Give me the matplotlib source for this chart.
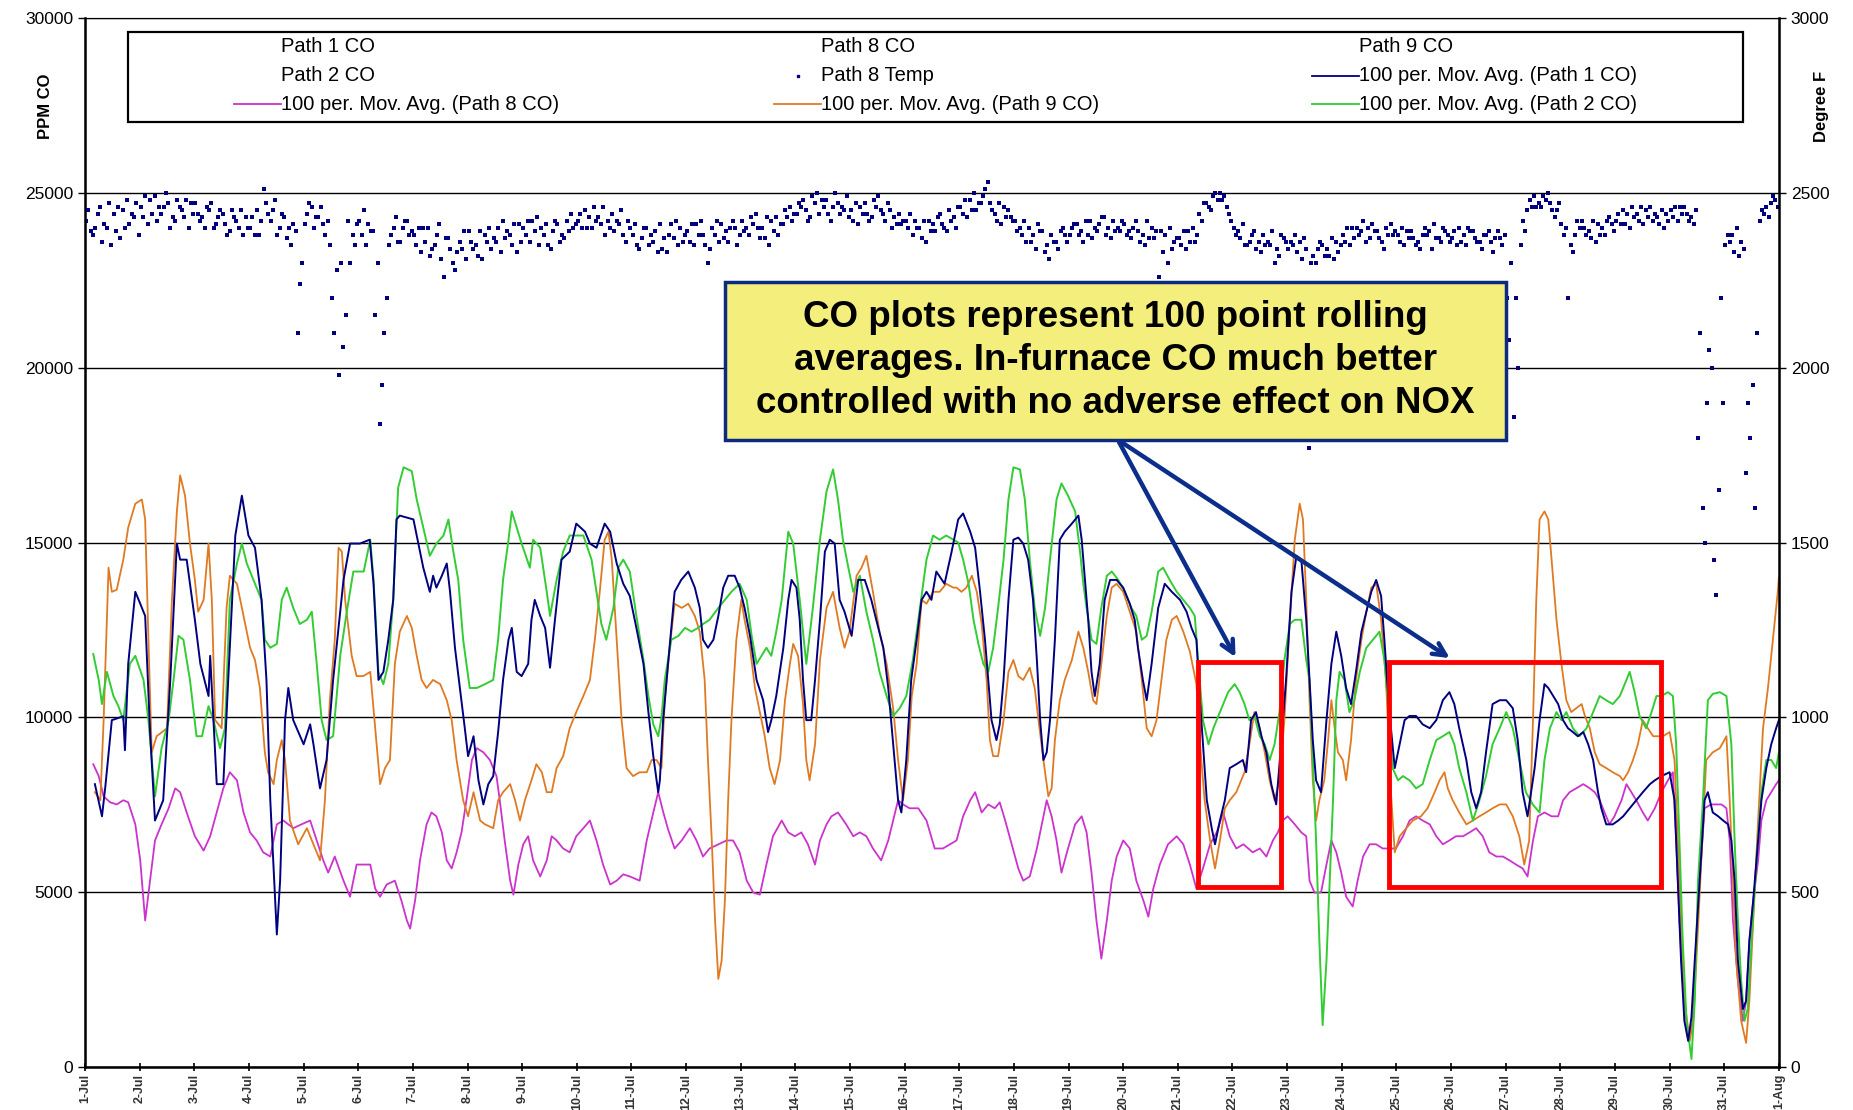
import numpy as np
import matplotlib
matplotlib.use("Agg")
import matplotlib.pyplot as plt
from matplotlib.patches import Rectangle
from matplotlib.lines import Line2D

plt.rcParams["font.family"] = ["Liberation Sans", "DejaVu Sans"]

# ---- data (x = days since 1-Jul 00:00) ----
P1_DAY = [0.18, 0.31, 0.37, 0.49, 0.70, 0.73, 0.79, 0.92, 1.01, 1.10, 1.19, 1.28, 1.43, 1.56, 1.68, 1.74, 1.86,
          2.01, 2.11, 2.26, 2.29, 2.35, 2.41, 2.53, 2.62, 2.75, 2.87, 2.99, 3.11, 3.23, 3.32, 3.39, 3.51, 3.57,
          3.66, 3.72, 3.81, 4.00, 4.12, 4.18, 4.30, 4.42, 4.54, 4.73, 4.85, 5.03,
          5.21, 5.28, 5.37, 5.46, 5.55, 5.64, 5.70, 5.76, 6.01, 6.10, 6.19, 6.31, 6.37, 6.43, 6.53, 6.62, 6.68,
          6.77, 6.86, 6.95, 7.01, 7.11, 7.20, 7.29, 7.38, 7.47, 7.56, 7.65, 7.75, 7.81, 7.90, 7.99, 8.11, 8.17,
          8.23, 8.33, 8.42, 8.51, 8.60, 8.72, 8.87, 8.99, 9.15, 9.24, 9.36, 9.51, 9.61, 9.73, 9.85, 9.97, 10.09,
          10.22, 10.31, 10.40, 10.49,
          10.52, 10.58, 10.67, 10.79, 10.91, 11.04, 11.16, 11.25, 11.31, 11.40, 11.50, 11.59, 11.68, 11.77,
          11.89, 11.98, 12.07, 12.17, 12.29, 12.41, 12.50, 12.56, 12.65, 12.78, 12.87, 12.93, 13.02, 13.08,
          13.14, 13.20, 13.29, 13.36, 13.45, 13.54, 13.63, 13.72, 13.81, 13.90, 14.03, 14.15, 14.27, 14.39,
          14.48, 14.61, 14.70, 14.79, 14.88, 14.94, 15.03, 15.12, 15.22, 15.31, 15.40, 15.49, 15.58, 15.73,
          15.86, 15.98, 16.07, 16.20, 16.29, 16.38, 16.47, 16.53, 16.59, 16.68, 16.74, 16.81, 16.90, 16.99,
          17.08, 17.17, 17.26, 17.35, 17.42, 17.48, 17.54, 17.60, 17.66, 17.75, 17.84, 17.93, 18.06, 18.18,
          18.24, 18.30, 18.36, 18.42, 18.48, 18.57, 18.66, 18.76, 18.88, 19.00, 19.12, 19.21, 19.27, 19.36,
          19.43, 19.52, 19.64, 19.76, 19.89, 20.04, 20.16, 20.25, 20.34, 20.40, 20.46, 20.53, 20.62, 20.68,
          20.77, 20.86, 20.95, 21.07,
          21.19, 21.25, 21.34, 21.43, 21.53, 21.62, 21.71, 21.80, 21.89, 21.98, 22.08, 22.17, 22.26, 22.35,
          22.41, 22.47, 22.53, 22.62, 22.72, 22.81, 22.90, 22.99, 23.08, 23.17, 23.26, 23.36, 23.45, 23.54,
          23.63, 23.72, 23.78, 23.84, 23.90, 23.97, 24.06, 24.15, 24.24, 24.36, 24.48, 24.61, 24.73, 24.85,
          24.97, 25.06, 25.15, 25.28, 25.37, 25.46, 25.55, 25.64, 25.76, 25.89, 26.01, 26.13, 26.22, 26.31,
          26.40, 26.53, 26.62, 26.71, 26.78, 26.87, 26.96, 27.05, 27.14, 27.23, 27.32, 27.42, 27.51, 27.60,
          27.69, 27.75, 27.84, 27.96, 28.06, 28.15, 28.27, 28.39, 28.51, 28.64, 28.73, 28.85, 29.00, 29.09,
          29.15, 29.21, 29.27, 29.34, 29.40, 29.46, 29.55, 29.64, 29.70, 29.79, 29.89, 29.98, 30.07, 30.13,
          30.19, 30.25, 30.34, 30.40, 30.46, 30.53, 30.59, 30.68, 30.77, 30.86, 30.95, 31.00]
P1_PPM = [8090, 7170, 8000, 9920, 10030, 9060, 11530, 13590, 13250, 12900, 9580, 7050, 7630, 11070, 14970, 14510, 14510,
          12790, 11530, 10610, 11760, 9920, 8090, 8090, 11070, 15200, 16340, 15200, 14850, 13360, 11070, 7630, 3790, 5330,
          9920, 10840, 9920, 9230, 9800, 9230, 7970, 8780, 11070, 13930, 14970, 14970,
          15080, 13820, 11070, 11300, 12220, 13360, 15660, 15770, 15660, 14970, 14280, 13590, 14050, 13710, 14050, 14400, 13590,
          11990, 10840, 9690, 8890, 9460, 8200, 7510, 8090, 8320, 9580, 11070, 12220, 12560, 11300, 11180, 11530, 12790,
          13360, 12900, 12560, 11420, 12790, 14510, 14740, 15540, 15310, 14970, 14850, 15540, 15310, 14400, 13820, 13470, 12560,
          11530, 10150, 8890, 7860,
          8200, 9920, 11530, 13590, 13930, 14170, 13710, 13130, 12220, 11990, 12220, 12900, 13710, 14050,
          14050, 13710, 13130, 12330, 11070, 10490, 9580, 9920, 10610, 11990, 13360, 13930, 13710, 12790,
          11070, 9920, 9920, 11070, 12790, 14740, 15080, 14970, 13360, 13020, 12330, 13930, 13930, 13360,
          12790, 11990, 10840, 9230, 7630, 7280, 8780, 11070, 12220, 13360, 13590, 13360, 14170, 13820,
          14740, 15660, 15830, 15310, 14850, 13590, 12220, 11070, 9920, 9350, 9800, 11070, 13360, 15080,
          15140, 14970, 14510, 13360, 11640, 9920, 8780, 9000, 9920, 12220, 15080, 15310, 15540, 15770,
          15080, 13930, 12790, 11300, 10610, 11530, 13360, 13930, 13930, 13710, 13250, 12790, 11990, 11070,
          10490, 11530, 13130, 13820, 13590, 13360, 13020, 12560, 12220, 10610, 9230, 7630, 6830, 6370,
          7050, 7630, 8550, 8660,
          8780, 8430, 9920, 10150, 9460, 9000, 8090, 7510, 9230, 11070, 13590, 14620, 14510, 12790,
          11070, 9350, 8200, 7860, 9920, 11530, 12450, 11760, 10840, 10380, 11300, 12450, 13020, 13590,
          13930, 13470, 12220, 10840, 9690, 8550, 9230, 9920, 10040, 10040, 9800, 9690, 9920, 10490,
          10720, 10380, 9690, 8780, 7860, 7400, 7860, 9000, 10380, 10490, 10490, 10260, 9350, 7860,
          7170, 8550, 9920, 10950, 10840, 10610, 10380, 9920, 9690, 9580, 9460, 9580, 9230, 8780,
          7860, 7400, 6940, 6940, 7050, 7170, 7400, 7630, 7860, 8090, 8200, 8320, 8430, 7630,
          5330, 3040, 1320, 750, 1430, 3040, 5330, 7630, 7860, 7280, 7170, 7050, 6940, 6480,
          5330, 3040, 1660, 1890, 3610, 4760, 5910, 7630, 8550, 9230, 9690, 9920]

P2_DAY = [0.15, 0.25, 0.31, 0.40, 0.52, 0.61, 0.70, 0.82, 0.92, 1.07, 1.16, 1.28, 1.40, 1.53, 1.62, 1.71, 1.80, 1.92,
          2.04, 2.14, 2.26, 2.35, 2.47, 2.56, 2.65, 2.78, 2.87, 2.96, 3.08, 3.23, 3.29, 3.39, 3.51, 3.60, 3.69, 3.81,
          3.93, 4.06, 4.15, 4.24, 4.33, 4.42, 4.54, 4.67, 4.79, 4.91, 5.10,
          5.22, 5.28, 5.37, 5.46, 5.55, 5.64, 5.73, 5.83, 5.98, 6.07, 6.19, 6.31, 6.43, 6.56, 6.65, 6.74, 6.83,
          6.92, 7.04, 7.17, 7.32, 7.47, 7.56, 7.65, 7.75, 7.81, 7.90, 7.99, 8.14, 8.20, 8.33, 8.45, 8.51, 8.63,
          8.75, 8.87, 9.12, 9.27, 9.36, 9.45, 9.54, 9.67, 9.76, 9.85, 9.97, 10.09, 10.22, 10.31, 10.40, 10.49,
          10.55, 10.61, 10.73, 10.86, 10.98, 11.10, 11.22, 11.31, 11.43, 11.59, 11.71, 11.83, 11.98, 12.11,
          12.20, 12.29, 12.38, 12.47, 12.56, 12.65, 12.75, 12.87, 12.96, 13.08, 13.20, 13.32, 13.45, 13.57,
          13.69, 13.78, 13.87, 13.97, 14.06, 14.18, 14.30, 14.42, 14.54, 14.67, 14.79, 14.91, 15.03, 15.15,
          15.28, 15.40, 15.52, 15.64, 15.76, 15.89, 15.98, 16.07, 16.17, 16.26, 16.35, 16.44, 16.53, 16.62,
          16.71, 16.81, 16.90, 16.99, 17.11, 17.20, 17.29, 17.38, 17.48, 17.57, 17.66, 17.78, 17.87, 17.99,
          18.12, 18.21, 18.27, 18.33, 18.42, 18.51, 18.60, 18.70, 18.79, 18.91, 19.03, 19.15, 19.24, 19.34,
          19.43, 19.52, 19.64, 19.73, 19.85, 19.98, 20.10, 20.22, 20.31, 20.37, 20.46, 20.56, 20.65, 20.77,
          20.92, 21.04, 21.13, 21.22, 21.31, 21.40, 21.50, 21.59, 21.68, 21.77, 21.86, 21.95, 22.05, 22.14,
          22.26, 22.35, 22.41, 22.47, 22.53, 22.59, 22.65, 22.72, 22.78, 22.84, 22.90, 22.96, 23.05, 23.14,
          23.23, 23.33, 23.45, 23.57, 23.69, 23.78, 23.84, 23.93, 24.03, 24.12, 24.24, 24.36, 24.48, 24.61,
          24.73, 24.85, 24.97, 25.06, 25.15, 25.28, 25.40, 25.52, 25.64, 25.76, 25.89, 26.01, 26.13, 26.25,
          26.37, 26.50, 26.62, 26.71, 26.81, 26.93, 27.02, 27.11, 27.23, 27.35, 27.48, 27.60, 27.72, 27.84,
          27.96, 28.09, 28.21, 28.27, 28.36, 28.45, 28.57, 28.67, 28.76, 28.85, 28.97, 29.06, 29.12, 29.18,
          29.24, 29.31, 29.40, 29.46, 29.52, 29.61, 29.70, 29.79, 29.92, 30.04, 30.13, 30.19, 30.25, 30.31,
          30.37, 30.43, 30.50, 30.59, 30.68, 30.77, 30.86, 30.95, 31.00]
P2_PPM = [11810, 11070, 10380, 11300, 10610, 10320, 9920, 11530, 11760, 11070, 9920, 7740, 9120, 9920, 11070, 12330, 12220, 11070,
          9460, 9460, 10320, 9920, 9120, 9690, 13360, 14400, 14970, 14400, 13940, 13360, 12220, 11990, 12100, 13360, 13710, 13130,
          12670, 12790, 13020, 11530, 9920, 9350, 9460, 11760, 13020, 14170, 14170,
          15080, 13930, 11300, 10950, 11530, 13360, 16570, 17150, 17040, 16230, 15430, 14620, 14970, 15200, 15660, 14740, 13930,
          12220, 10840, 10840, 10950, 11070, 12220, 13930, 15080, 15890, 15430, 14970, 14280, 15080, 14850, 13590, 12900, 13930,
          14740, 15200, 15200, 14510, 13590, 12670, 12220, 13130, 14280, 14510, 14170, 12900, 11640, 10610, 9800, 9460,
          10000, 11070, 12220, 12330, 12560, 12450, 12560, 12670, 12790, 13130, 13360, 13590, 13820, 13360,
          12330, 11530, 11760, 11990, 11760, 12450, 13360, 15310, 14970, 13360, 11530, 13130, 15080, 16460,
          17090, 16230, 15080, 14280, 13590, 14050, 13020, 12220, 11300, 10610, 10040, 10260, 10610, 11640,
          13130, 14510, 15200, 15080, 15200, 15080, 15000, 14510, 13820, 12790, 12100, 11530, 11300, 11990,
          13130, 14510, 16230, 17150, 17090, 16230, 14510, 13130, 12330, 13130, 14510, 16230, 16690, 16340,
          15890, 14740, 13820, 13130, 12220, 12100, 13130, 14050, 14170, 13930, 13590, 13130, 12900, 12220,
          12330, 13020, 14170, 14280, 13930, 13590, 13360, 13130, 12900, 11640, 9920, 9230, 9690, 10150,
          10720, 10950, 10720, 10380, 9920, 10040, 9460, 9230, 8780, 9230, 10150, 11640, 12670, 12790,
          12790, 11640, 11070, 8780, 6480, 3610, 1200, 3040, 5330, 7630, 10490, 11300, 11070, 10150,
          10490, 11300, 11990, 12220, 12450, 11640, 10490, 8550, 8200, 8320, 8200, 7970, 8090, 8780,
          9350, 9460, 9580, 9230, 8550, 7860, 7050, 7630, 8320, 9230, 9690, 10150, 9690, 8780,
          7860, 7500, 7280, 8780, 9690, 10150, 9920, 10150, 9690, 9460, 9690, 10150, 10610, 10490,
          10380, 10610, 11070, 11300, 10720, 10040, 9690, 10150, 10610, 10610, 10720, 10610, 9230, 6480,
          3610, 1320, 230, 1890, 5330, 7630, 10490, 10670, 10720, 10610, 9230, 6480, 4190, 2470,
          1320, 1660, 3610, 5910, 7860, 8780, 8780, 8550, 9000]

P8_DAY = [0.15, 0.25, 0.34, 0.46, 0.58, 0.70, 0.79, 0.92, 1.01, 1.10, 1.19, 1.28, 1.40, 1.53, 1.65, 1.74, 1.86, 2.01,
          2.17, 2.29, 2.41, 2.53, 2.65, 2.78, 2.90, 3.02, 3.14, 3.26, 3.39, 3.51, 3.63, 3.81, 3.96, 4.12, 4.24, 4.36,
          4.45, 4.57, 4.73, 4.85, 4.97, 5.12,
          5.22, 5.31, 5.40, 5.52, 5.67, 5.79, 5.89, 5.95, 6.04, 6.13, 6.25, 6.34, 6.43, 6.53, 6.62, 6.71, 6.80,
          6.89, 6.98, 7.08, 7.17, 7.29, 7.41, 7.53, 7.59, 7.68, 7.78, 7.84, 7.93, 8.02, 8.11, 8.20, 8.33, 8.45,
          8.54, 8.63, 8.75, 8.87, 8.99, 9.12, 9.24, 9.36, 9.48, 9.61, 9.73, 9.85, 9.97, 10.15, 10.28, 10.40, 10.49,
          10.58, 10.67, 10.79, 10.92, 11.07, 11.19, 11.31, 11.43, 11.59, 11.74, 11.86, 11.98, 12.11, 12.23,
          12.35, 12.47, 12.59, 12.75, 12.87, 12.99, 13.11, 13.23, 13.36, 13.45, 13.57, 13.66, 13.78, 13.93,
          14.06, 14.18, 14.30, 14.42, 14.57, 14.70, 14.79, 14.88, 14.97, 15.09, 15.25, 15.40, 15.55, 15.70,
          15.83, 15.95, 16.07, 16.20, 16.29, 16.41, 16.53, 16.65, 16.74, 16.84, 16.96, 17.08, 17.17, 17.29,
          17.42, 17.51, 17.60, 17.69, 17.78, 17.87, 17.99, 18.12, 18.24, 18.33, 18.42, 18.51, 18.60, 18.70,
          18.79, 18.88, 19.00, 19.12, 19.24, 19.37, 19.46, 19.55, 19.67, 19.82, 19.98, 20.10, 20.22, 20.34,
          20.46, 20.59, 20.71, 20.83, 20.95, 21.07, 21.20, 21.37, 21.50, 21.62, 21.74, 21.83, 21.92, 22.01,
          22.14, 22.26, 22.35, 22.41, 22.50, 22.62, 22.72, 22.81, 22.90, 22.99, 23.08, 23.20, 23.29, 23.39,
          23.51, 23.63, 23.75, 23.87, 23.99, 24.12, 24.24, 24.36, 24.48, 24.61, 24.73, 24.85, 24.97, 25.09,
          25.22, 25.34, 25.46, 25.58, 25.70, 25.83, 25.95, 26.07, 26.19, 26.31, 26.40, 26.50, 26.59, 26.71,
          26.84, 26.96, 27.05, 27.17, 27.29, 27.42, 27.54, 27.63, 27.72, 27.81, 27.90, 27.99, 28.12, 28.21,
          28.30, 28.39, 28.51, 28.60, 28.73, 28.85, 28.97, 29.06, 29.12, 29.18, 29.24, 29.34, 29.43, 29.49,
          29.55, 29.64, 29.76, 29.86, 29.95, 30.04, 30.10, 30.16, 30.25, 30.34, 30.40, 30.46, 30.53, 30.62,
          30.68, 30.77, 30.86, 30.95, 31.00]
P8_PPM = [8660, 8320, 7740, 7570, 7510, 7630, 7570, 6940, 5910, 4190, 5330, 6480, 6940, 7400, 7970, 7860, 7280, 6600,
          6190, 6600, 7280, 7970, 8430, 8200, 7280, 6710, 6480, 6140, 6020, 6940, 7050, 6830, 6940, 7050, 6480, 5910,
          5560, 6020, 5330, 4870, 5790, 5790,
          5790, 5100, 4870, 5220, 5330, 4760, 4190, 3960, 4760, 5910, 6940, 7280, 7170, 6710, 5910, 5680, 6140,
          6710, 7630, 8780, 9120, 9000, 8780, 8320, 7630, 6480, 5330, 4930, 5790, 6370, 6600, 5910, 5450, 5910,
          6600, 6480, 6250, 6140, 6600, 6830, 7050, 6480, 5790, 5220, 5330, 5510, 5450, 5330, 6480, 7280, 7860,
          7300, 6800, 6250, 6480, 6830, 6480, 6020, 6250, 6370, 6480, 6480, 6140, 5330, 4990,
          4930, 5790, 6600, 7050, 6710, 6600, 6710, 6370, 5790, 6480, 6940, 7170, 7280, 6940,
          6600, 6710, 6600, 6250, 5910, 6480, 7050, 7630, 7510, 7400, 7400, 7050, 6250, 6250,
          6370, 6480, 7170, 7630, 7860, 7280, 7510, 7400, 7570, 7050, 6370, 5680, 5330, 5450,
          6250, 6940, 7630, 7170, 6480, 5560, 6250, 6940, 7170, 6710, 5560, 4190, 3100, 4190,
          5330, 6020, 6480, 6250, 5330, 4760, 4300, 5100, 5790, 6370, 6600, 6370, 5790, 5100,
          5680, 6370, 6710, 7280, 6600, 6250, 6370, 6140, 6250, 6020, 6480, 6710, 7050, 7170,
          6940, 6710, 6600, 5330, 4990, 4990, 5790, 6480, 6140, 5560, 4870, 4590, 5330, 6020,
          6370, 6370, 6250, 6250, 6250, 6600, 7050, 7170, 7050, 6940, 6600, 6370, 6480, 6600,
          6600, 6710, 6830, 6600, 6140, 6020, 6020, 5910, 5790, 5680, 5450, 6480, 7170, 7280,
          7170, 7170, 7630, 7860, 7970, 8090, 7970, 7860, 7630, 7280, 6940, 7170, 7630, 8090,
          7860, 7630, 7280, 7050, 7400, 7860, 8200, 8430, 6480, 4190, 2470, 750, 1320, 3610,
          5330, 7400, 7510, 7510, 7510, 7400, 6480, 4190, 2470, 1320, 1890, 3610, 4760, 5910,
          7050, 7630, 7860, 8090, 8200]

P9_DAY = [0.18, 0.28, 0.34, 0.43, 0.49, 0.58, 0.70, 0.79, 0.92, 1.04, 1.10, 1.16, 1.22, 1.31, 1.50, 1.59, 1.68, 1.74,
          1.83, 1.92, 2.01, 2.07, 2.17, 2.26, 2.32, 2.38, 2.50, 2.59, 2.65, 2.78, 2.90, 3.02, 3.11, 3.20, 3.29, 3.35,
          3.45, 3.51, 3.60, 3.66, 3.75, 3.90, 4.06, 4.18, 4.30, 4.39, 4.48, 4.57, 4.64, 4.70, 4.76, 4.88, 4.97, 5.09,
          5.22, 5.31, 5.40, 5.49, 5.58, 5.67, 5.76, 5.89, 5.98, 6.07, 6.16, 6.25, 6.37, 6.50, 6.62, 6.71, 6.80,
          6.92, 7.01, 7.11, 7.23, 7.32, 7.47, 7.56, 7.65, 7.78, 7.87, 7.96, 8.05, 8.17, 8.26, 8.36, 8.45, 8.54,
          8.63, 8.75, 8.87, 8.99, 9.12, 9.24, 9.33, 9.42, 9.51, 9.58, 9.64, 9.73, 9.82, 9.91, 10.03, 10.15,
          10.28, 10.37, 10.46,
          10.55, 10.61, 10.70, 10.79, 10.92, 11.04, 11.16, 11.25, 11.34, 11.40, 11.47, 11.53, 11.59, 11.65,
          11.71, 11.77, 11.83, 11.92, 12.01, 12.07, 12.17, 12.26, 12.35, 12.44, 12.53, 12.62, 12.72, 12.81,
          12.90, 12.96, 13.05, 13.14, 13.20, 13.26, 13.36, 13.45, 13.57, 13.69, 13.81, 13.90, 13.99, 14.12,
          14.21, 14.30, 14.42, 14.54, 14.67, 14.79, 14.88, 14.97, 15.06, 15.13, 15.22, 15.31, 15.40, 15.52,
          15.64, 15.76, 15.89, 15.95, 16.04, 16.13, 16.23, 16.32, 16.41, 16.50, 16.56, 16.62, 16.71, 16.81,
          16.90, 16.99, 17.08, 17.17, 17.29, 17.38, 17.45, 17.54, 17.63, 17.69, 17.75, 17.84, 17.93, 18.06,
          18.18, 18.27, 18.36, 18.45, 18.51, 18.60, 18.70, 18.79, 18.88, 19.00, 19.12, 19.24, 19.34, 19.43,
          19.52, 19.61, 19.70, 19.79, 19.89, 19.98, 20.10, 20.22, 20.34, 20.40, 20.49, 20.59, 20.68, 20.77,
          20.86, 20.95, 21.07, 21.22, 21.31, 21.40, 21.50, 21.59, 21.68, 21.77, 21.86, 21.95, 22.05, 22.14,
          22.23, 22.29, 22.35, 22.41, 22.47, 22.53, 22.59, 22.68, 22.75, 22.81, 22.87, 22.93, 23.02, 23.08,
          23.17, 23.26, 23.36, 23.45, 23.54, 23.63, 23.72, 23.81, 23.90, 23.97, 24.06, 24.18, 24.30, 24.45,
          24.57, 24.70, 24.79, 24.88, 24.94, 25.03, 25.15, 25.28, 25.40, 25.52, 25.64, 25.76, 25.89, 26.01,
          26.13, 26.25, 26.34, 26.43, 26.50, 26.56, 26.62, 26.71, 26.78, 26.84, 26.93, 27.02, 27.11, 27.20,
          27.29, 27.39, 27.45, 27.54, 27.63, 27.72, 27.84, 27.96, 28.09, 28.15, 28.24, 28.33, 28.42, 28.51,
          28.60, 28.70, 28.79, 28.88, 29.00, 29.09, 29.15, 29.21, 29.27, 29.37, 29.43, 29.49, 29.58, 29.67,
          29.79, 29.92, 30.04, 30.10, 30.16, 30.22, 30.31, 30.40, 30.46, 30.53, 30.62, 30.71, 30.80, 30.89,
          30.98, 31.00]
P9_PPM = [7860, 7630, 9920, 14280, 13590, 13650, 14510, 15430, 16110, 16230, 15660, 12220, 9000, 9460, 9690, 13360, 15880, 16920,
          16340, 14970, 13930, 13020, 13360, 14970, 13360, 9920, 9690, 13130, 14050, 13820, 12900, 11990, 11640, 10840, 9000, 8430,
          8090, 8780, 9350, 8780, 7050, 6370, 6830, 6370, 5910, 7630, 10490, 12220, 14850, 14740, 13360, 11760, 11180, 11180,
          11300, 9690, 8090, 8550, 8780, 11530, 12450, 12900, 12560, 11760, 11070, 10840, 11070, 10950, 10490, 9920, 8780,
          7630, 7170, 7860, 7050, 6940, 6830, 7630, 7860, 8090, 7630, 7050, 7630, 8200, 8660, 8430, 7860, 7860,
          8550, 8890, 9690, 10150, 10610, 11070, 12220, 13590, 15080, 15310, 14510, 12220, 9920, 8550, 8320, 8430,
          8430, 8780, 8780,
          8550, 10490, 11990, 13250, 13130, 13250, 12900, 12450, 11070, 8780, 6480, 4190, 2520, 3040,
          4760, 7630, 9920, 12220, 13360, 12790, 11990, 10840, 10150, 9460, 8550, 8090, 8780, 10490,
          11530, 12100, 11760, 10380, 8780, 8200, 9230, 11640, 13130, 13590, 12560, 11990, 12450, 14050,
          14280, 14620, 13590, 12450, 11530, 10260, 8780, 7630, 8780, 10610, 11530, 13360, 13250, 13590,
          13590, 13820, 13710, 13710, 13590, 13710, 14050, 13590, 12670, 11070, 9350, 8890, 8890, 9920,
          11300, 11640, 11180, 11070, 11420, 10840, 9920, 8780, 7740, 7970, 9350, 10490, 11070, 11640,
          12450, 11990, 11300, 10490, 10380, 11530, 12900, 13710, 13820, 13590, 13020, 12450, 11070, 9690,
          9460, 9920, 11070, 12220, 12790, 12900, 12450, 11880, 10950, 9350, 7630, 6480, 5680, 6480,
          7400, 7630, 7860, 8430, 9230, 10150, 9690, 9000, 8200, 7630, 8200, 9920, 12790, 15080,
          16110, 15660, 13360, 10490, 8200, 7050, 7630, 8200, 9350, 10490, 9690, 9000, 8780, 8200,
          9350, 11070, 12220, 13020, 13710, 13820, 12790, 11070, 7860, 6140, 6600, 6830, 7050, 7170,
          7400, 7860, 8200, 8430, 7970, 7630, 7280, 6940, 7050, 7170, 7280, 7400, 7510, 7510,
          7170, 6600, 5790, 6480, 9920, 13360, 15660, 15890, 15660, 14510, 12790, 11530, 10490, 10150,
          10260, 10380, 10040, 9690, 9000, 8660, 8550, 8430, 8320, 8200, 8430, 8780, 9230, 9920,
          9690, 9460, 9460, 9460, 9580, 8780, 6480, 4190, 1890, 750, 1320, 3040, 5910, 8780,
          9000, 9120, 9460, 7630, 5330, 3040, 1320, 690, 1890, 4190, 7050, 9690, 10840, 12220,
          13590, 14000]

# Path 8 temperature (deg F): three interleaved reading sets, 8 readings per day each, from 1-Jul
TEMP_A = [2420, 2380, 2460, 2400, 2440, 2370, 2480, 2430,
          2460, 2410, 2490, 2440, 2470, 2420, 2450, 2400,
          2470, 2430, 2450, 2410, 2440, 2390, 2420, 2380,
          2400, 2450, 2510, 2420, 2380, 2430, 2350, 2100,
          2410, 2460, 2430, 2380, 2200, 1980, 2150, 2380,
          2420, 2350, 2390, 1840, 2200, 2400, 2360, 2420,
          2380, 2330, 2400, 2350, 2310, 2370, 2280, 2340,
          2390, 2350, 2310, 2400, 2360, 2420, 2380, 2330,
          2400, 2360, 2430, 2380, 2340, 2410, 2370, 2440,
          2420, 2450, 2400, 2430, 2380, 2440, 2410, 2360,
          2380, 2340, 2400, 2360, 2410, 2330, 2370, 2400,
          2390, 2350, 2420, 2300, 2380, 2410, 2360, 2400,
          2420, 2380, 2440, 2400, 2350, 2430, 2410, 2460,
          2440, 2480, 2430, 2500, 2460, 2420, 2470, 2450,
          2450, 2410, 2470, 2430, 2490, 2420, 2400, 2440,
          2420, 2380, 2400, 2360, 2410, 2440, 2390, 2430,
          2460, 2430, 2500, 2470, 2530, 2440, 2410, 2450,
          2420, 2380, 2400, 2340, 2390, 2310, 2360, 2400,
          2380, 2410, 2360, 2420, 2390, 2430, 2370, 2400,
          2410, 2370, 2390, 2350, 2400, 2260, 2380, 2340,
          2370, 2340, 2400, 2440, 2470, 2490, 2500, 2460,
          2400, 2370, 2350, 2390, 2330, 2360, 2300, 2380,
          2340, 2380, 2310, 1770, 2300, 2350, 2320, 2360,
          2380, 2350, 2400, 2420, 2370, 2390, 2340, 2410,
          2380, 2350, 2390, 2360, 2400, 2340, 2370, 2390,
          2370, 2400, 2350, 2390, 2360, 2380, 2330, 2370,
          2200, 1860, 2350, 2450, 2490, 2460, 2500, 2430,
          2410, 2200, 2380, 2420, 2390, 2360, 2400, 2430,
          2420, 2450, 2400, 2440, 2410, 2460, 2430, 2400,
          2450, 2420, 2460, 2430, 1800, 1500, 2000, 1650,
          2350, 2380, 2320, 1700, 1950, 2420, 2460, 2490]
TEMP_B = [2450, 2400, 2360, 2470, 2390, 2450, 2410, 2470,
          2430, 2480, 2420, 2460, 2400, 2480, 2430, 2470,
          2440, 2400, 2470, 2430, 2410, 2450, 2400, 2430,
          2430, 2380, 2470, 2450, 2400, 2370, 2410, 2240,
          2440, 2400, 2460, 2420, 2100, 2300, 2420, 2350,
          2380, 2410, 2150, 1950, 2350, 2430, 2400, 2380,
          2350, 2400, 2320, 2380, 2260, 2340, 2330, 2390,
          2360, 2320, 2380, 2340, 2400, 2370, 2350, 2410,
          2380, 2420, 2350, 2410, 2390, 2360, 2420, 2400,
          2440, 2400, 2460, 2410, 2420, 2390, 2450, 2420,
          2410, 2370, 2350, 2390, 2340, 2380, 2420, 2360,
          2360, 2410, 2380, 2340, 2420, 2370, 2400, 2350,
          2390, 2430, 2400, 2370, 2420, 2380, 2450, 2420,
          2470, 2450, 2490, 2440, 2480, 2460, 2440, 2490,
          2420, 2460, 2440, 2480, 2450, 2470, 2430, 2410,
          2400, 2420, 2370, 2420, 2390, 2410, 2450, 2400,
          2440, 2480, 2450, 2490, 2470, 2420, 2460, 2430,
          2390, 2420, 2360, 2410, 2330, 2380, 2340, 2380,
          2400, 2380, 2420, 2370, 2410, 2380, 2420, 2390,
          2380, 2400, 2360, 2420, 2370, 2390, 2300, 2360,
          2350, 2390, 2360, 2420, 2460, 2500, 2480, 2440,
          2380, 2410, 2360, 2340, 2380, 2350, 2340, 2370,
          2360, 2330, 2370, 2300, 2340, 2320, 2370, 2330,
          2360, 2400, 2380, 2360, 2410, 2370, 2400, 2380,
          2360, 2390, 2370, 2340, 2380, 2410, 2360, 2380,
          2390, 2360, 2400, 2370, 2340, 2390, 2370, 2350,
          2080, 2200, 2420, 2480, 2460, 2490, 2470, 2450,
          2380, 2350, 2420, 2400, 2370, 2410, 2380, 2410,
          2440, 2410, 2460, 2420, 2450, 2420, 2410, 2440,
          2430, 2460, 2440, 2410, 2100, 1900, 1450, 2200,
          2380, 2330, 2360, 1900, 1600, 2450, 2430, 2480]
TEMP_C = [2390, 2440, 2410, 2350, 2460, 2400, 2440, 2380,
          2490, 2440, 2460, 2500, 2430, 2460, 2480, 2440,
          2420, 2460, 2400, 2450, 2380, 2430, 2450, 2400,
          2380, 2420, 2440, 2480, 2440, 2400, 2390, 2300,
          2470, 2430, 2410, 2350, 2280, 2060, 2300, 2410,
          2450, 2390, 2300, 2100, 2380, 2360, 2420, 2390,
          2400, 2360, 2340, 2410, 2370, 2300, 2360, 2310,
          2340, 2390, 2360, 2370, 2330, 2390, 2410, 2360,
          2420, 2390, 2400, 2350, 2420, 2380, 2390, 2410,
          2400, 2430, 2420, 2460, 2400, 2420, 2380, 2400,
          2350, 2400, 2380, 2330, 2370, 2410, 2350, 2380,
          2410, 2380, 2350, 2400, 2360, 2390, 2420, 2380,
          2400, 2410, 2370, 2430, 2390, 2410, 2430, 2440,
          2460, 2420, 2470, 2480, 2440, 2500, 2460, 2430,
          2470, 2440, 2420, 2460, 2440, 2450, 2410, 2420,
          2440, 2400, 2420, 2390, 2430, 2400, 2420, 2460,
          2480, 2450, 2470, 2510, 2450, 2470, 2430, 2420,
          2400, 2360, 2380, 2390, 2350, 2360, 2390, 2360,
          2410, 2390, 2380, 2400, 2430, 2400, 2390, 2420,
          2390, 2420, 2380, 2370, 2390, 2330, 2400, 2370,
          2390, 2360, 2380, 2470, 2450, 2480, 2490, 2420,
          2390, 2350, 2380, 2360, 2350, 2390, 2320, 2360,
          2350, 2360, 2340, 2320, 2360, 2340, 2310, 2350,
          2400, 2370, 2390, 2400, 2390, 2360, 2380, 2390,
          2400, 2370, 2350, 2380, 2390, 2370, 2400, 2360,
          2350, 2380, 2390, 2360, 2380, 2360, 2390, 2380,
          2300, 2000, 2390, 2460, 2470, 2480, 2450, 2470,
          2400, 2330, 2400, 2380, 2420, 2380, 2420, 2390,
          2410, 2440, 2430, 2460, 2430, 2440, 2450, 2420,
          2460, 2440, 2420, 2450, 1600, 2050, 1350, 1900,
          2360, 2400, 2340, 1800, 2100, 2440, 2470, 2460]

DAY_LABELS = [f"{d}-Jul" for d in range(1, 32)] + ["1-Aug"]
LEFT_TICKS = [0, 5000, 10000, 15000, 20000, 25000, 30000]
RIGHT_TICKS = [0, 500, 1000, 1500, 2000, 2500, 3000]

NAVY = "#000080"
GREEN = "#33CC33"
ORANGE = "#E07A22"
MAGENTA = "#CC33CC"

fig, ax = plt.subplots(figsize=(18.53, 11.10), dpi=100)
fig.subplots_adjust(left=0.0459, right=0.960, top=0.9838, bottom=0.0387)
ax2 = ax.twinx()

ax.plot(P8_DAY, P8_PPM, color=MAGENTA, lw=1.3, zorder=3)
ax.plot(P9_DAY, P9_PPM, color=ORANGE, lw=1.3, zorder=3)
ax.plot(P2_DAY, P2_PPM, color=GREEN, lw=1.4, zorder=4)
ax.plot(P1_DAY, P1_PPM, color=NAVY, lw=1.4, zorder=5)
for k, temps in enumerate((TEMP_A, TEMP_B, TEMP_C)):
    tday = (np.arange(len(temps)) + 0.17 + 0.33 * k) / 8.0
    ax2.plot(tday, temps, ls="none", marker="s", ms=2.5, mew=0, color=NAVY, zorder=2)

ax.set_xlim(0, 31)
ax.set_ylim(0, 30000)
ax2.set_ylim(0, 3000)
ax.set_xticks(range(32))
ax.set_xticklabels(DAY_LABELS, rotation=90, fontsize=9, fontweight="bold", color="#333333")
ax.set_yticks(LEFT_TICKS)
ax.set_yticklabels([str(v) for v in LEFT_TICKS], fontsize=12.5)
ax2.set_yticks(RIGHT_TICKS)
ax2.set_yticklabels([str(v) for v in RIGHT_TICKS], fontsize=12.5)
ax.tick_params(axis="x", direction="inout", length=6, width=1.2, pad=2)
ax.tick_params(axis="y", direction="out", length=5, width=1.0)
ax2.tick_params(axis="y", direction="out", length=5, width=1.0)
ax.grid(axis="y", color="black", lw=1.0)
for s in ("left", "bottom"):
    ax.spines[s].set_linewidth(1.8)
ax2.spines["right"].set_linewidth(1.8)
ax.spines["top"].set_color("#555555")

ax.set_ylabel("PPM CO", fontsize=12, fontweight="bold")
ax.yaxis.set_label_coords(-0.0188, 0.916)
ax2.set_ylabel("Degree F", fontsize=12, fontweight="bold")
ax2.yaxis.set_label_coords(1.0205, 0.916)

# ---- legend drawn by hand in axes coordinates ----
T = ax2.transAxes
ax2.add_patch(Rectangle((0.0251, 0.9012), 0.9537, 0.0856, transform=T, facecolor="white",
                        edgecolor="black", lw=1.6, zorder=10))
rows = [0.9732, 0.9451, 0.9180]
cols = [0.1159, 0.4347, 0.7521]
entries = [
    (0, 0, "Path 1 CO", None), (1, 0, "Path 2 CO", None), (2, 0, "100 per. Mov. Avg. (Path 8 CO)", MAGENTA),
    (0, 1, "Path 8 CO", None), (1, 1, "Path 8 Temp", "dot"), (2, 1, "100 per. Mov. Avg. (Path 9 CO)", ORANGE),
    (0, 2, "Path 9 CO", None), (1, 2, "100 per. Mov. Avg. (Path 1 CO)", NAVY), (2, 2, "100 per. Mov. Avg. (Path 2 CO)", GREEN),
]
for r, c, label, h in entries:
    x, y = cols[c], rows[r]
    ax2.text(x, y, label, transform=T, fontsize=14.5, va="center", ha="left", zorder=11)
    if h == "dot":
        ax2.add_line(Line2D([x - 0.014], [y], transform=T, marker="s", ms=1.8, color=NAVY, ls="none", zorder=11))
    elif h is not None:
        ax2.add_line(Line2D([x - 0.028, x], [y, y], transform=T, color=h, lw=1.3, zorder=11))

# ---- annotation (ax2 units = ppm / 10) ----
ax2.add_patch(Rectangle((11.71, 1794), 14.29, 452, facecolor="#F4EF7C", edgecolor="#0B2A80",
                        lw=2.5, zorder=12))
ax2.text(18.85, 2020, "CO plots represent 100 point rolling\naverages. In-furnace CO much better\n"
         "controlled with no adverse effect on NOX", ha="center", va="center", fontsize=26.5,
         fontweight="bold", linespacing=1.3, zorder=13)
for hx in (21.08, 25.02):
    ax2.annotate("", xy=(hx, 1165), xytext=(18.9, 1794),
                 arrowprops=dict(arrowstyle="->,head_length=0.9,head_width=0.45", color="#0B2E8A", lw=3.2),
                 zorder=12)
ax2.add_patch(Rectangle((20.37, 516), 1.52, 642, fill=False, edgecolor="#FF0000", lw=3.5, zorder=12))
ax2.add_patch(Rectangle((23.86, 516), 4.99, 642, fill=False, edgecolor="#FF0000", lw=3.5, zorder=12))

fig.savefig("out.png", dpi=100)
